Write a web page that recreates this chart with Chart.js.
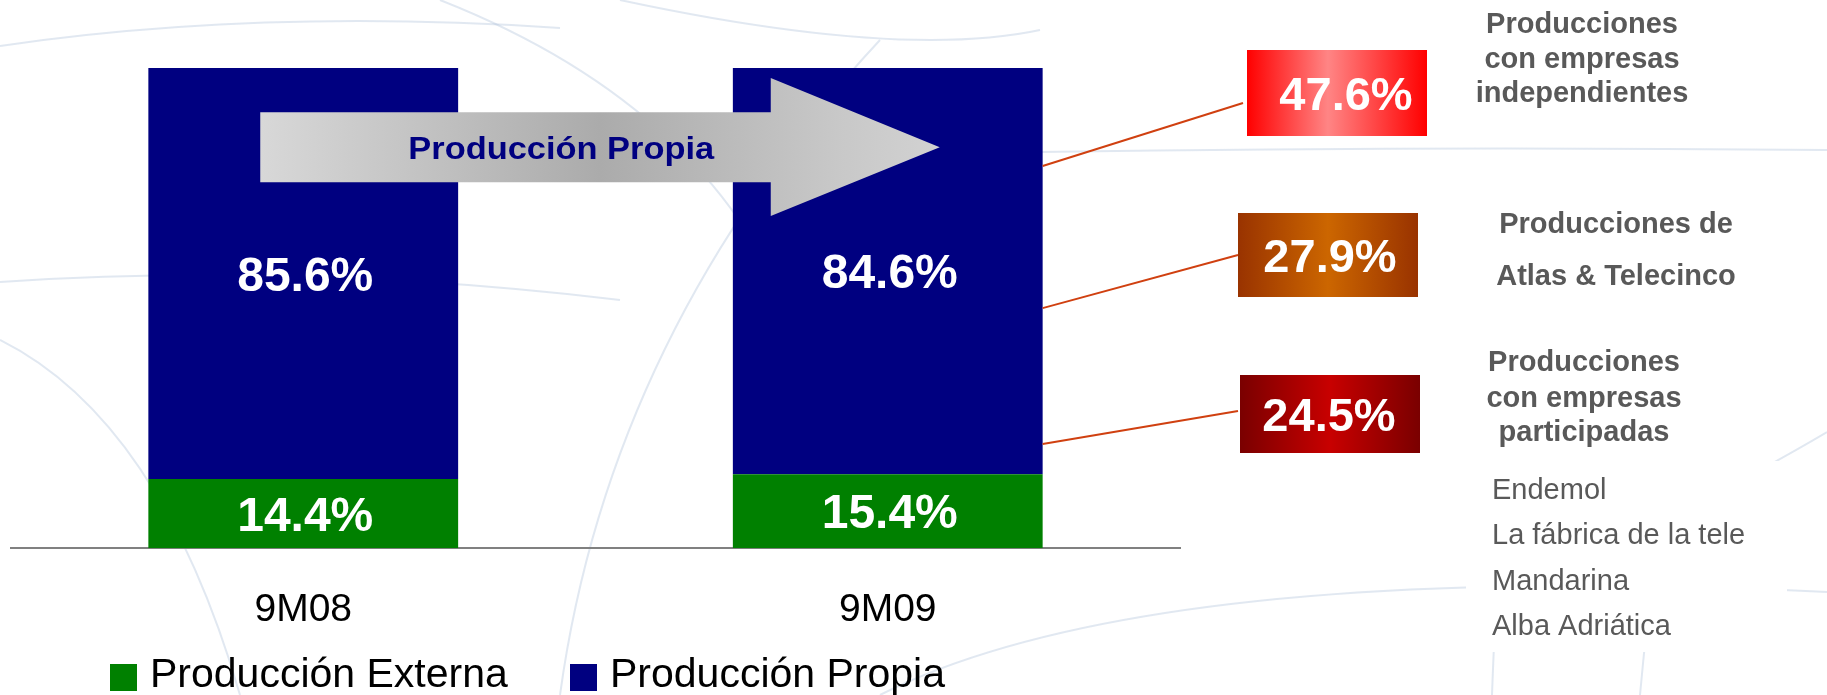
<!DOCTYPE html>
<html>
<head>
<meta charset="utf-8">
<script src="https://cdn.jsdelivr.net/npm/chart.js@4.4.1/dist/chart.umd.min.js"></script>
<style>
  html, body { margin: 0; padding: 0; background: #fff; }
  canvas { display: block; }
</style>
</head>
<body>
<canvas id="prod" width="1827" height="695"></canvas>
<script>
// data
const categories = ["9M08", "9M09"];
const externa = [14.4, 15.4];
const propia = [85.6, 84.6];
const seriesNames = ["Producción Externa", "Producción Propia"];
const arrowLabel = "Producción Propia";
const splitValues = [47.6, 27.9, 24.5];
const splitTitles = [
  ["Producciones", "con empresas", "independientes"],
  ["Producciones de", "Atlas & Telecinco"],
  ["Producciones", "con empresas", "participadas"]
];
const partners = ["Endemol", "La fábrica de la tele", "Mandarina", "Alba Adriática"];

const FONT = '"Liberation Sans", Arial, sans-serif';

// text drawn a bit wider when needed
function wideText(ctx, txt, x, y, sx) {
  ctx.save();
  ctx.translate(x, y);
  ctx.scale(sx, 1);
  ctx.fillText(txt, 0, 0);
  ctx.restore();
}

// faint globe lines behind everything
const backdrop = {
  id: "backdrop",
  beforeDraw(chart) {
    const ctx = chart.ctx;
    ctx.save();
    ctx.fillStyle = "#fff";
    ctx.fillRect(0, 0, chart.width, chart.height);
    ctx.strokeStyle = "rgba(165,185,212,0.33)";
    ctx.lineWidth = 2;
    const curves = [
      [0, 46, 260, 8, 560, 28],
      [440, 0, 720, 110, 800, 340],
      [0, 282, 300, 262, 620, 300],
      [0, 340, 160, 420, 240, 695],
      [560, 695, 610, 330, 880, 40],
      [880, 695, 1150, 560, 1827, 592],
      [1040, 152, 1420, 146, 1827, 150],
      [1492, 695, 1494, 640, 1498, 560],
      [1640, 695, 1646, 630, 1654, 560],
      [1760, 470, 1800, 448, 1827, 432],
      [620, 0, 900, 60, 1040, 30]
    ];
    curves.forEach(c => {
      ctx.beginPath();
      ctx.moveTo(c[0], c[1]);
      ctx.quadraticCurveTo(c[2], c[3], c[4], c[5]);
      ctx.stroke();
    });
    // plain panel behind the partner list
    ctx.fillStyle = "#fff";
    ctx.fillRect(1466, 461, 321, 191);
    ctx.restore();
  }
};

const annotations = {
  id: "annotations",
  afterDatasetsDraw(chart) {
    const ctx = chart.ctx;
    const y = chart.scales.y;
    const b1 = chart.getDatasetMeta(1).data[0];
    const b2 = chart.getDatasetMeta(1).data[1];

    // grey arrow across both bars
    const ax0 = b1.x - 43, axHead = b2.x - 117, axTip = b2.x + 52;
    const sTop = y.getPixelForValue(90.8), sBot = y.getPixelForValue(76.2);
    const hTop = y.getPixelForValue(97.9), hBot = y.getPixelForValue(69.2);
    const tipY = y.getPixelForValue(83.5);
    ctx.save();
    const g = ctx.createLinearGradient(ax0, 0, axTip, 0);
    g.addColorStop(0, "#d8d8d8");
    g.addColorStop(0.5, "#ababab");
    g.addColorStop(0.85, "#c8c8c8");
    g.addColorStop(1, "#d2d2d2");
    ctx.fillStyle = g;
    ctx.beginPath();
    ctx.moveTo(ax0, sTop);
    ctx.lineTo(axHead, sTop);
    ctx.lineTo(axHead, hTop);
    ctx.lineTo(axTip, tipY);
    ctx.lineTo(axHead, hBot);
    ctx.lineTo(axHead, sBot);
    ctx.lineTo(ax0, sBot);
    ctx.closePath();
    ctx.fill();
    ctx.fillStyle = "#000080";
    ctx.font = "bold 32px " + FONT;
    ctx.textAlign = "center";
    ctx.textBaseline = "alphabetic";
    wideText(ctx, arrowLabel, ax0 + 301, (sTop + sBot) / 2 + 12, 1.075);
    ctx.restore();

    // values inside the bars
    ctx.save();
    ctx.fillStyle = "#fff";
    ctx.font = "bold 48px " + FONT;
    ctx.textAlign = "center";
    ctx.textBaseline = "alphabetic";
    chart.data.datasets.forEach((ds, di) => {
      chart.getDatasetMeta(di).data.forEach((el, i) => {
        const cy = (el.y + el.base) / 2;
        ctx.fillText(ds.data[i].toFixed(1) + "%", el.x + 2, cy + 17);
      });
    });
    ctx.restore();

    // split of own production: leader lines + boxes
    const right = b2.x + b2.width / 2;
    const anchorAt = [79.6, 50, 21.7];
    const boxes = [
      { x: 1247, y: 50, w: 180, h: 86, lx: 1243, ly: 103, tx: 1346, stops: ["#ff0000", "#ff8585", "#ff0000"], mid: 0.45 },
      { x: 1238, y: 213, w: 180, h: 84, lx: 1238, ly: 255, tx: 1330, stops: ["#993300", "#cc6600", "#993300"], mid: 0.5 },
      { x: 1240, y: 375, w: 180, h: 78, lx: 1238, ly: 411, tx: 1329, stops: ["#7a0000", "#c80000", "#7a0000"], mid: 0.5 }
    ];
    ctx.save();
    ctx.strokeStyle = "#d04010";
    ctx.lineWidth = 2;
    boxes.forEach((bx, i) => {
      ctx.beginPath();
      ctx.moveTo(right, y.getPixelForValue(anchorAt[i]));
      ctx.lineTo(bx.lx, bx.ly);
      ctx.stroke();
      const gr = ctx.createLinearGradient(bx.x, 0, bx.x + bx.w, 0);
      gr.addColorStop(0, bx.stops[0]);
      gr.addColorStop(bx.mid, bx.stops[1]);
      gr.addColorStop(1, bx.stops[2]);
      ctx.fillStyle = gr;
      ctx.fillRect(bx.x, bx.y, bx.w, bx.h);
      ctx.fillStyle = "#fff";
      ctx.font = "bold 47px " + FONT;
      ctx.textAlign = "center";
      ctx.fillText(splitValues[i].toFixed(1) + "%", bx.tx, bx.y + bx.h / 2 + 17);
    });
    ctx.restore();

    // captions beside the boxes
    ctx.save();
    ctx.fillStyle = "#595959";
    ctx.font = "bold 29px " + FONT;
    ctx.textAlign = "center";
    const capX = [1582, 1616, 1584];
    const capY = [[33, 68, 102], [233, 285], [371, 407, 441]];
    splitTitles.forEach((lines, i) => {
      lines.forEach((t, j) => ctx.fillText(t, capX[i], capY[i][j]));
    });
    ctx.font = "29px " + FONT;
    ctx.textAlign = "left";
    partners.forEach((p, i) => ctx.fillText(p, 1492, 499 + i * 45.3));
    ctx.restore();

    // legend under the categories
    ctx.save();
    ctx.font = "41px " + FONT;
    ctx.textAlign = "left";
    const legX = [110, 570];
    chart.data.datasets.forEach((ds, i) => {
      ctx.fillStyle = ds.backgroundColor;
      ctx.fillRect(legX[i], 664, 27, 27);
      ctx.fillStyle = "#000";
      ctx.fillText(ds.label, legX[i] + 40, 687);
    });
    ctx.restore();
  }
};

new Chart(document.getElementById("prod"), {
  type: "bar",
  data: {
    labels: categories,
    datasets: [
      { label: seriesNames[0], data: externa, backgroundColor: "#008000" },
      { label: seriesNames[1], data: propia, backgroundColor: "#000080" }
    ]
  },
  options: {
    responsive: false,
    animation: false,
    layout: { padding: { left: 11, right: 647, top: 68, bottom: 22 } },
    datasets: { bar: { categoryPercentage: 1, barPercentage: 0.53 } },
    plugins: {
      legend: { display: false },
      tooltip: { enabled: false }
    },
    scales: {
      x: {
        stacked: true,
        grid: { display: false, drawTicks: false },
        border: { display: true, color: "#808080", width: 2 },
        ticks: { color: "#000", padding: 39, font: { family: FONT, size: 39 } }
      },
      y: { stacked: true, display: false, min: 0, max: 100 }
    }
  },
  plugins: [backdrop, annotations]
});
</script>
</body>
</html>
